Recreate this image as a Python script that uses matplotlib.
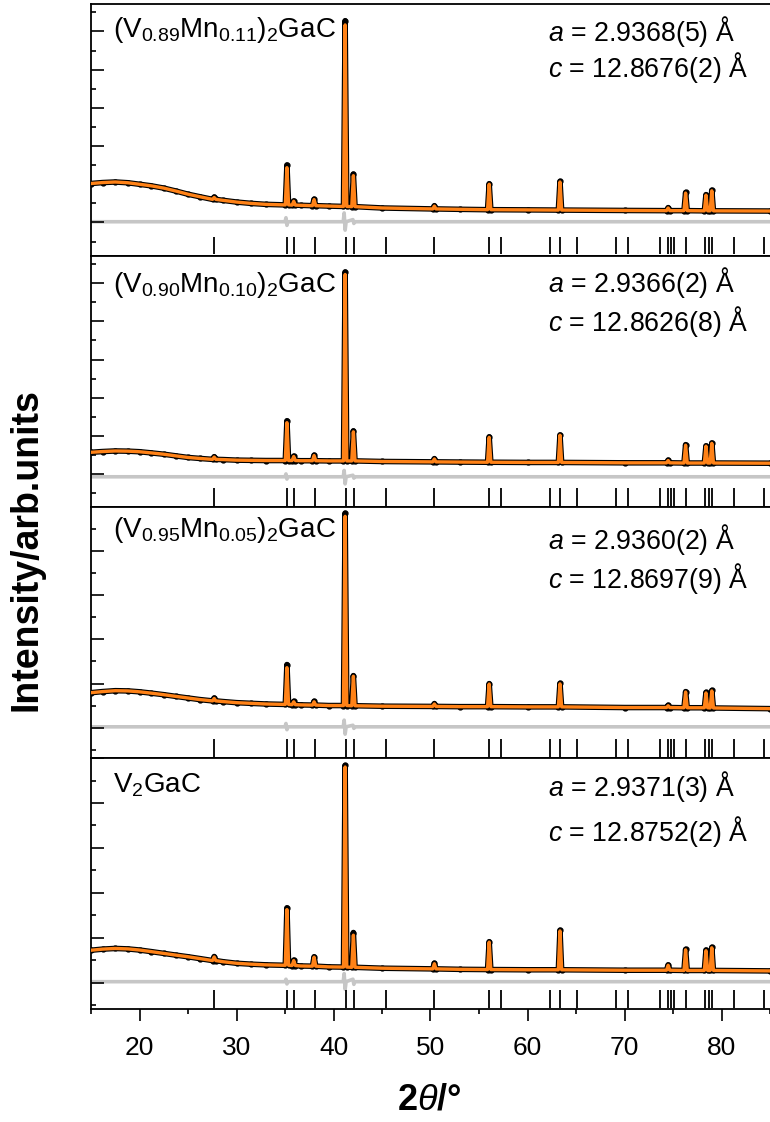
import numpy as np
import matplotlib
matplotlib.use("Agg")
import matplotlib.pyplot as plt
from matplotlib.ticker import MultipleLocator

plt.rcParams["font.family"] = ["Liberation Sans", "DejaVu Sans"]
plt.rcParams["mathtext.fontset"] = "custom"
plt.rcParams["mathtext.rm"] = "Liberation Sans"
plt.rcParams["mathtext.it"] = "Liberation Sans:italic"
plt.rcParams["mathtext.bf"] = "Liberation Sans:bold"

# ---- data (intensity in y-tick units of each panel) ----
samples = ["(V$_{0.89}$Mn$_{0.11}$)$_2$GaC", "(V$_{0.90}$Mn$_{0.10}$)$_2$GaC",
           "(V$_{0.95}$Mn$_{0.05}$)$_2$GaC", "V$_2$GaC"]
a_text = ["2.9368(5)", "2.9366(2)", "2.9360(2)", "2.9371(3)"]
c_text = ["12.8676(2)", "12.8626(8)", "12.8697(9)", "12.8752(2)"]

# background knots
bg_tt = [15, 16.2, 17.5, 18.8, 20, 21.2, 22.5, 23.8, 25, 26.2, 28.6, 30, 31.5, 33,
         36.6, 39.5, 45, 53, 60, 70, 85]
bg_1 = [3.04, 3.09, 3.12, 3.08, 3.00, 2.92, 2.80, 2.64, 2.48, 2.35, 2.16, 2.07, 2.00, 1.95,
        1.90, 1.86, 1.76, 1.69, 1.66, 1.63, 1.60]
bg_2 = [2.15, 2.19, 2.22, 2.21, 2.18, 2.12, 2.05, 1.96, 1.88, 1.83, 1.77, 1.74, 1.73, 1.72,
        1.71, 1.70, 1.67, 1.64, 1.62, 1.60, 1.58]
bg_3 = [2.59, 2.64, 2.68, 2.67, 2.63, 2.57, 2.50, 2.42, 2.35, 2.28, 2.19, 2.14, 2.11, 2.08,
        2.04, 2.01, 1.98, 1.96, 1.95, 1.92, 1.87]
bg_4 = [2.44, 2.49, 2.52, 2.50, 2.45, 2.38, 2.30, 2.22, 2.15, 2.07, 1.93, 1.86, 1.82, 1.79,
        1.74, 1.70, 1.64, 1.59, 1.57, 1.55, 1.52]

# reflections seen in the patterns
peak_tt = [27.7, 35.2, 35.9, 38.0, 41.2, 42.05, 50.4, 56.05, 63.35, 74.5, 76.3, 78.4, 79.0]
base_1 = [2.21, 1.92, 1.91, 1.88, 1.84, 1.83, 1.71, 1.67, 1.65, 1.62, 1.62, 1.61, 1.61]
base_2 = [1.78, 1.72, 1.72, 1.71, 1.70, 1.70, 1.65, 1.63, 1.62, 1.60, 1.59, 1.59, 1.59]
base_3 = [2.22, 2.06, 2.05, 2.03, 2.01, 2.00, 1.97, 1.96, 1.95, 1.92, 1.91, 1.91, 1.90]
base_4 = [1.98, 1.77, 1.76, 1.73, 1.69, 1.68, 1.61, 1.58, 1.57, 1.55, 1.54, 1.54, 1.54]

calc_1 = [2.31, 3.87, 2.11, 2.20, 11.34, 3.45, 1.86, 3.00, 3.12, 1.76, 2.54, 2.43, 2.66]
calc_2 = [1.90, 3.70, 1.93, 1.98, 11.45, 3.22, 1.80, 2.93, 3.04, 1.72, 2.52, 2.47, 2.62]
calc_3 = [2.33, 3.72, 2.18, 2.18, 10.55, 3.33, 2.08, 2.98, 2.99, 2.00, 2.62, 2.58, 2.67]
calc_4 = [2.14, 4.25, 1.98, 2.13, 10.60, 3.11, 1.84, 2.80, 3.30, 1.77, 2.46, 2.42, 2.55]

obs_1 = [2.33, 4.01, 2.13, 2.22, 11.56, 3.53, 1.88, 3.03, 3.15, 1.78, 2.57, 2.46, 2.69]
obs_2 = [1.92, 3.80, 1.95, 2.00, 11.58, 3.27, 1.82, 2.96, 3.06, 1.74, 2.55, 2.49, 2.64]
obs_3 = [2.35, 3.86, 2.20, 2.20, 10.69, 3.36, 2.10, 3.00, 3.01, 2.02, 2.64, 2.60, 2.69]
obs_4 = [2.16, 4.33, 2.00, 2.15, 10.67, 3.23, 1.86, 2.82, 3.33, 1.79, 2.48, 2.45, 2.57]

# difference curves
diff_tt = [15, 35.0, 35.1, 35.2, 35.3, 41.0, 41.1, 41.2, 41.3, 42.0, 42.1, 42.2, 85]
diff_1 = [1.04, 1.04, 1.25, 0.85, 1.04, 1.04, 1.50, 0.60, 1.04, 1.15, 0.95, 1.04, 1.04]
diff_2 = [0.87, 0.87, 1.02, 0.75, 0.87, 0.87, 1.20, 0.50, 0.87, 0.95, 0.80, 0.87, 0.87]
diff_3 = [1.05, 1.05, 1.20, 0.92, 1.05, 1.05, 1.35, 0.72, 1.05, 1.12, 0.98, 1.05, 1.05]
diff_4 = [1.04, 1.04, 1.15, 0.94, 1.04, 1.04, 1.40, 0.70, 1.04, 1.15, 0.92, 1.04, 1.04]

# Bragg positions
bragg_tt = [27.71, 35.22, 35.94, 38.10, 41.26, 42.08, 45.44, 50.41, 56.07, 57.27,
            62.34, 63.37, 65.09, 69.10, 70.40, 73.62, 74.51, 74.82, 75.09, 76.30,
            78.35, 78.69, 79.03, 81.34, 84.34]

bgs = [bg_1, bg_2, bg_3, bg_4]
bases = [base_1, base_2, base_3, base_4]
calcs = [calc_1, calc_2, calc_3, calc_4]
obss = [obs_1, obs_2, obs_3, obs_4]
diffs = [diff_1, diff_2, diff_3, diff_4]
ylims = [(-0.73, 12.42), (-0.70, 12.44), (-0.36, 10.98), (-0.19, 11.0)]

# text placement (axes fraction)
label_y = [0.871, 0.854, 0.881, 0.863]
a_y = [0.855, 0.854, 0.834, 0.850]
c_y = [0.709, 0.698, 0.675, 0.671]

hw = 0.17  # half width of drawn peak


def profile(bg, base, top):
    xs = list(bg_tt)
    ys = list(bg)
    for p, b, t in zip(peak_tt, base, top):
        xs += [p - hw, p, p + hw]
        ys += [b, t, b]
    order = np.argsort(xs)
    return np.array(xs)[order], np.array(ys)[order]


fig = plt.figure(figsize=(7.7, 11.22), dpi=100)
axes = fig.subplots(4, 1, sharex=True, gridspec_kw=dict(hspace=0))
fig.subplots_adjust(left=91 / 770, right=1.0, top=1 - 4.3 / 1122, bottom=1 - 1009.3 / 1122)

orange = "#ff8217"
for i, ax in enumerate(axes):
    x_o, y_o = profile(bgs[i], bases[i], obss[i])
    x_c, y_c = profile(bgs[i], bases[i], calcs[i])
    ax.plot(diff_tt, diffs[i], color="#c6c6c6", lw=2.6, zorder=1)
    ax.plot(x_o, y_o, color="black", lw=4.0, marker="o", ms=3.5, zorder=2)
    ax.plot(x_c, y_c, color=orange, lw=2.4, zorder=3)
    ax.vlines(bragg_tt, 0.005, 0.075, color="black", lw=1.3,
              transform=ax.get_xaxis_transform(), zorder=2)

    ax.set_xlim(15, 85)
    ax.set_ylim(*ylims[i])
    ax.yaxis.set_major_locator(MultipleLocator(2, offset=1))
    ax.yaxis.set_minor_locator(MultipleLocator(1))
    ax.tick_params(axis="y", which="major", direction="in", length=9, width=1.2, labelleft=False)
    ax.tick_params(axis="y", which="minor", direction="in", length=3.5, width=1.2)
    ax.spines["right"].set_visible(False)
    for s in ["left", "top", "bottom"]:
        ax.spines[s].set_linewidth(1.3)

    ax.text(0.032, label_y[i], samples[i], transform=ax.transAxes, fontsize=20,
            ha="left", va="baseline")
    ax.text(0.673, a_y[i], "$a$ = " + a_text[i] + " Å", transform=ax.transAxes,
            fontsize=19.3, ha="left", va="baseline")
    ax.text(0.673, c_y[i], "$c$ = " + c_text[i] + " Å", transform=ax.transAxes,
            fontsize=19.3, ha="left", va="baseline")

for ax in axes[:-1]:
    ax.tick_params(axis="x", which="both", bottom=False, labelbottom=False)

axes[-1].xaxis.set_major_locator(MultipleLocator(10))
axes[-1].xaxis.set_minor_locator(MultipleLocator(5))
axes[-1].tick_params(axis="x", which="major", direction="out", length=8.4, width=1.2,
                     labelsize=19, pad=11)
axes[-1].tick_params(axis="x", which="minor", direction="out", length=3.6, width=1.2)

fig.text(27 / 770, 1 - 550 / 1122, "Intensity/arb.units", rotation=90, fontsize=27,
         fontweight="bold", ha="center", va="center")
fig.text(429 / 770, 1 - 1100 / 1122, r"2$\theta$/°", fontsize=26, fontweight="bold",
         ha="center", va="center")

fig.savefig("out.png", dpi=100)
